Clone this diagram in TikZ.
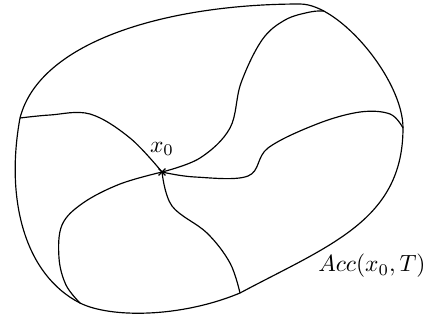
\documentclass[tikz,border=0pt]{standalone}
\usetikzlibrary{shapes.misc}
\begin{document}
\begin{tikzpicture}[x=0.015cm,y=-0.015cm,line width=0.5pt,
		curve/.style={smooth,tension=0.6}]
		\useasboundingbox (0,0) rectangle (434,320);
		\coordinate (l) at (20,118);
		\coordinate (t) at (300,4);
		\coordinate (r) at (403,128);
		\coordinate (b) at (240,293);
		\coordinate (bl) at (80,303);
		\coordinate (tr) at (324,11);
		% boundary of the reachable set
		\draw (l) .. controls (40,40) and (170,4) .. (t)
			.. controls (340,4) and (403,80) .. (r)
			.. controls (403,220) and (330,245) .. (b)
			.. controls (180,318) and (110,318) .. (bl)
			.. controls (25,275) and (5,200) .. (l) -- cycle;
		\node[cross out,draw,inner sep=1.2pt] (x0) at (162,172) {};
		\node[above=2pt] at (x0.north) {$x_0$};
		\node[anchor=east] (acc) at (434,266) {$Acc(x_0,T)$};
		% trajectories leaving x0
		\draw plot[curve] coordinates {(l) (50,115) (90,114) (130,138) (x0)};
		\draw plot[curve] coordinates {(x0) (200,158) (230,128) (241,83) (262,40) (285,20) (310,12) (tr)};
		\draw plot[curve] coordinates {(x0) (195,177) (248,176) (268,148) (317,124) (360,112) (390,114) (r)};
		\draw plot[curve] coordinates {(x0) (120,184) (83,203) (62,225) (59,258) (66,285) (bl)};
		\draw plot[curve] coordinates {(x0) (172,206) (207,233) (230,263) (b)};
	\end{tikzpicture}
\end{document}
